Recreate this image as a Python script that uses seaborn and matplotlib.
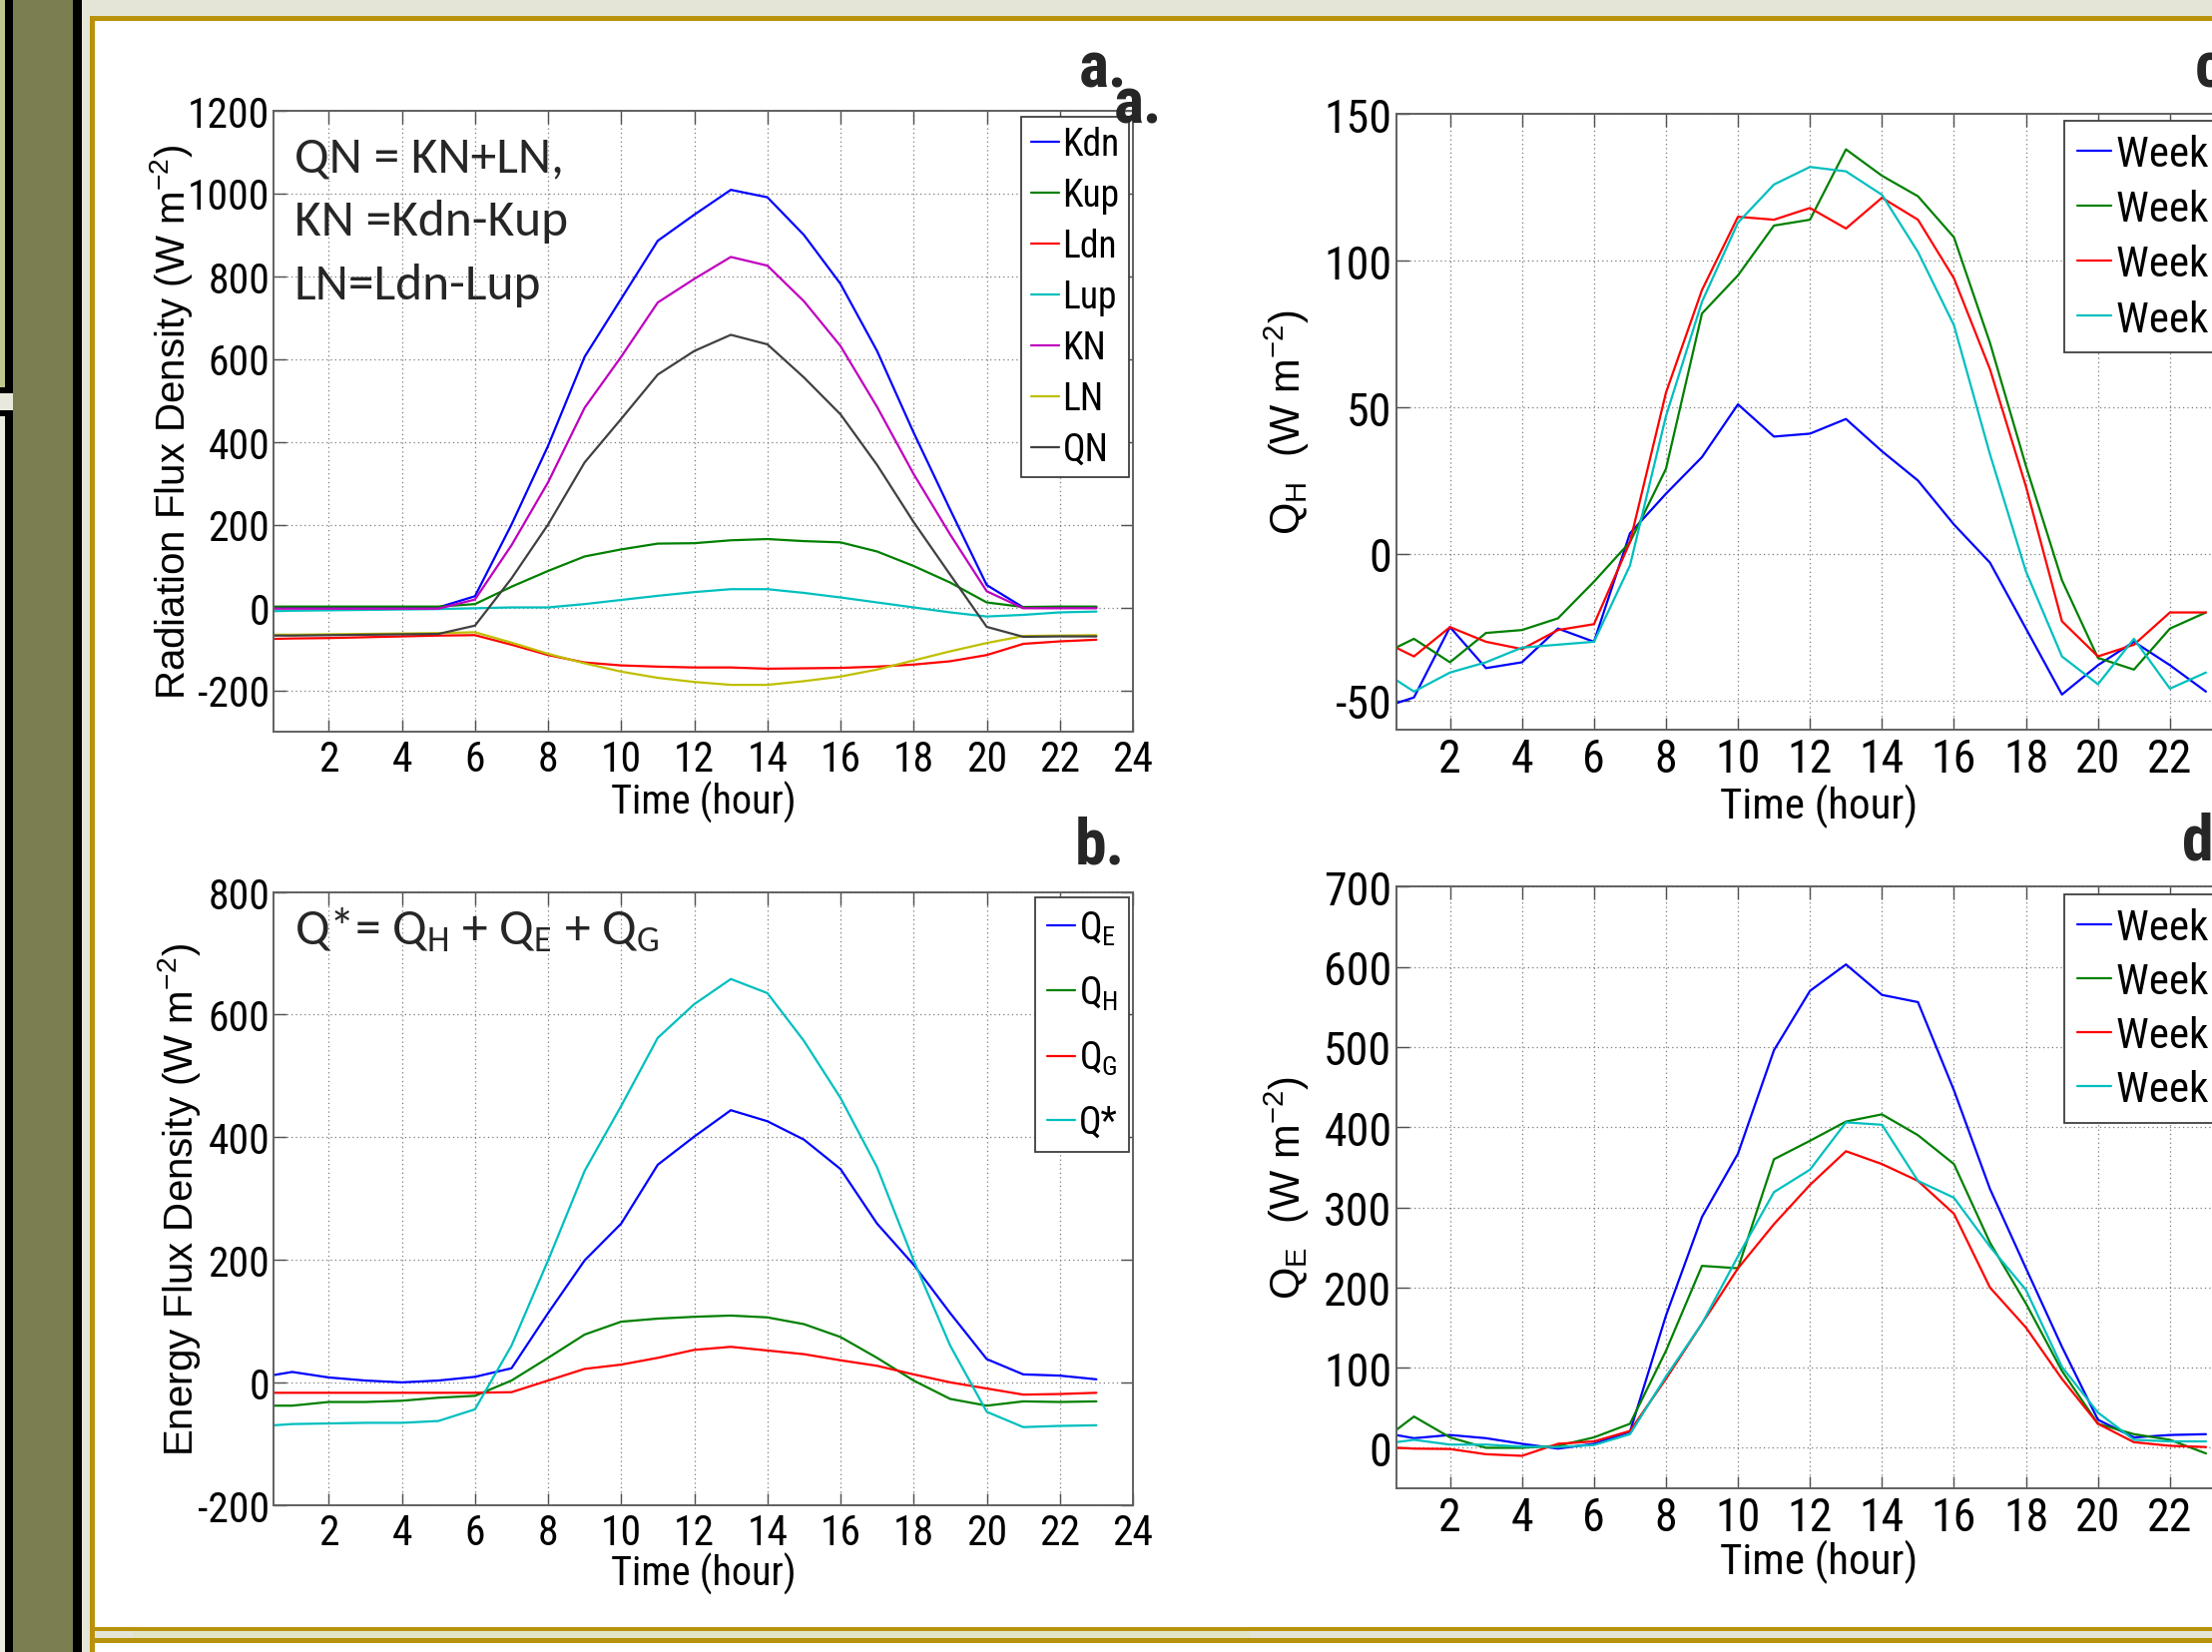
import matplotlib
matplotlib.use('Agg')
import matplotlib.pyplot as plt
import seaborn as sns
from matplotlib.patches import Rectangle

# ---------------- data ----------------
hours = [0.5] + list(range(1, 24))

# panel a: radiation components (W m-2)
rad_names = ['Kdn', 'Kup', 'Ldn', 'Lup', 'KN', 'LN', 'QN']
kdn = [0, 0, 0, 0, 0, 0, 27, 200, 390, 605, 745, 885, 948, 1008, 990, 899, 781, 619, 422, 236, 54, 0, 0, 0]
kup = [2, 2, 2, 2, 2, 2, 8, 50, 88, 123, 140, 154, 155, 162, 165, 160, 157, 135, 100, 60, 12, 1, 2, 2]
ldn = [-76, -75, -74, -72, -70, -68, -67, -90, -115, -133, -140, -143, -145, -145, -148, -147, -146, -143, -138, -130, -115, -88, -82, -78]
lup = [-9, -8, -7, -6, -5, -4, -2, 0, 0, 8, 18, 28, 37, 44, 44, 35, 24, 12, 0, -12, -22, -18, -12, -10]
kn = [-3, -3, -3, -3, -3, -3, 19, 150, 302, 482, 605, 736, 793, 846, 825, 739, 631, 484, 322, 176, 39, -2, -2, -2]
ln = [-66, -66, -65, -64, -63, -62, -60, -85, -112, -135, -155, -170, -180, -187, -187, -178, -167, -150, -128, -106, -86, -69, -68, -67]
qn = [-68, -68, -67, -66, -65, -64, -44, 70, 200, 350, 455, 562, 619, 658, 635, 555, 466, 344, 206, 79, -47, -71, -70, -70]

# panel b: energy balance components (W m-2)
en_names = ['Q$_E$', 'Q$_H$', 'Q$_G$', 'Q*']
qe = [12, 17, 8, 3, 0, 3, 9, 23, 113, 199, 259, 355, 401, 444, 426, 396, 348, 259, 192, 113, 38, 13, 11, 5]
qh = [-38, -38, -32, -32, -30, -25, -22, 3, 40, 78, 99, 104, 107, 109, 106, 95, 74, 40, 3, -27, -38, -31, -32, -31]
qg = [-17, -17, -17, -17, -17, -17, -17, -16, 3, 22, 29, 40, 53, 58, 52, 46, 36, 27, 13, 0, -10, -20, -19, -17]
qstar = [-70, -68, -67, -66, -66, -63, -44, 60, 199, 345, 451, 562, 617, 658, 635, 557, 464, 351, 199, 60, -48, -73, -71, -70]

# panel c: weekly Q_H
week_names = ['Week 1', 'Week 2', 'Week 3', 'Week 4']
qh_w1 = [-51, -49, -25, -39, -37, -25.5, -30, 7, 20.5, 33, 51, 40, 41, 46, 35, 25, 10, -3, -25.5, -48, -38, -30, -38, -47]
qh_w2 = [-32, -29, -37, -27, -26, -22, -9.5, 4, 29, 82, 95, 112, 114, 138, 129, 122, 108, 72, 30, -9, -35.5, -39.5, -25.5, -20]
qh_w3 = [-32, -35, -25, -30, -32.5, -26, -24, 4, 55, 90, 115, 114, 118, 111, 121.5, 114, 94, 63, 23, -23, -35, -31, -20, -20]
qh_w4 = [-43, -47, -40.5, -37, -32, -31, -30, -4, 47, 86, 113, 126, 132, 130.5, 122.5, 103, 78, 34, -6, -35, -44.5, -29, -46, -40.5]

# panel d: weekly Q_E
qe_w1 = [16, 12, 16, 12, 5, -1, 5, 20, 165, 288, 367, 496, 570, 603, 565, 556, 446, 323, 224, 126, 35, 13, 16, 17]
qe_w2 = [22, 39, 13, 0, 0, 2.5, 13, 30, 121, 227, 224, 360, 383, 407, 416, 390, 354, 256, 180, 96, 30, 17, 10, -7]
qe_w3 = [0, -1, -1.5, -8, -10, 5, 8, 21, 86, 155, 224, 279, 328, 370, 354, 333, 292, 200, 150, 86, 30, 7, 2.5, 1]
qe_w4 = [7, 10, 4, 4, 1.5, 1, 3.5, 17, 89, 155, 239, 319, 347, 406, 403, 333, 312, 251, 197, 101, 44, 10, 8, 8]

# ---------------- style ----------------
sns.set_theme(style='white')
NARROW = ['Roboto Condensed', 'PT Sans Narrow', 'IBM Plex Sans Condensed', 'DejaVu Sans']
plt.rcParams['font.family'] = NARROW
plt.rcParams['mathtext.default'] = 'regular'
plt.rcParams['axes.unicode_minus'] = False

BLUE, GREEN, RED, CYAN = '#0000ff', '#008000', '#ff0000', '#00bfbf'
MAG, YEL, DARK = '#bf00bf', '#bfbf00', '#404040'

W, H = 2216, 1656
fig = plt.figure(figsize=(W / 100, H / 100), dpi=100)
fig.patch.set_facecolor('#e4e5d7')

# ---------------- poster background ----------------
bg = fig.add_axes([0, 0, 1, 1], zorder=-5)
bg.set_xlim(0, W)
bg.set_ylim(H, 0)
bg.axis('off')


def rect(x0, y0, x1, y1, c):
    bg.add_patch(Rectangle((x0, y0), x1 - x0, y1 - y0, facecolor=c, edgecolor='none', lw=0))


GOLD = '#b8920c'
rect(0, 0, 5, 389, '#c0c58b')
rect(0, 389, 13, 395, '#000000')
rect(0, 395, 13, 412, '#e8e8dc')
rect(0, 412, 13, 418, '#000000')
rect(0, 418, 5, H, '#e9eae0')
rect(5, 0, 13, 389, '#000000')
rect(5, 418, 13, H, '#000000')
rect(13, 0, 73, H, '#7b7e50')
rect(73, 0, 82, H, '#000000')
rect(95, 22, W, 1631, '#ffffff')
rect(90, 17, W, 22, GOLD)
rect(90, 17, 95, H, GOLD)
rect(90, 1631, W, 1635, GOLD)
rect(133, 1635, 1252, 1642, '#e2e4c6')
rect(90, 1642, W, 1647, GOLD)
rect(95, 1647, W, H, '#ffffff')


# ---------------- panels ----------------
def panel(box, series, names, colors, ylim, yticks, ylabel, ylab_x, xlab_y,
          tick_fs, lab_fs, ylab_fs, leg_kw):
    l, t, r, b = box
    ax = fig.add_axes([l / W, 1 - b / H, (r - l) / W, (b - t) / H])
    ax.set_facecolor('white')
    for vals, name, col in zip(series, names, colors):
        sns.lineplot(x=hours, y=vals, ax=ax, color=col, label=name, linewidth=1.6)
    ax.set_xlim(0.5, 24)
    ax.set_xticks(list(range(2, 25, 2)))
    ax.set_ylim(*ylim)
    ax.set_yticks(yticks)
    ax.grid(True, linestyle=(0, (1, 2.5)), color='#7a7a7a', linewidth=0.9)
    for s in ax.spines.values():
        s.set_color('#606060')
        s.set_linewidth(1.4)
    ax.tick_params(direction='in', bottom=True, left=True, top=True, right=True,
                   length=9, width=1, color='#505050', labelsize=tick_fs,
                   labelcolor='black')
    ax.tick_params(axis='y', pad=3)
    ax.tick_params(axis='x', pad=5)
    ax.set_xlabel('Time (hour)', fontsize=lab_fs, color='black')
    ax.xaxis.label.set_va('center')
    ax.xaxis.set_label_coords(0.5, xlab_y)
    ax.set_ylabel(ylabel, fontsize=ylab_fs, color='black',
                  family=['Liberation Sans', 'DejaVu Sans'])
    ax.yaxis.label.set_va('center')
    ax.yaxis.set_label_coords(ylab_x, 0.5)
    leg = ax.legend(bbox_transform=fig.transFigure, borderaxespad=0, frameon=True,
                    fancybox=False, edgecolor='#404040', framealpha=1,
                    handletextpad=0.1, **leg_kw)
    leg.get_frame().set_linewidth(1.3)
    for txt in leg.get_texts():
        txt.set_color('black')
    return ax


ax_a = panel((274.4, 111.5, 1135, 734),
             [kdn, kup, ldn, lup, kn, ln, qn], rad_names,
             [BLUE, GREEN, RED, CYAN, MAG, YEL, DARK],
             (-300, 1200), list(range(-200, 1201, 200)),
             'Radiation Flux Density (W m$^{-2}$)', -0.12, -0.113,
             30, 29, 29,
             dict(loc='upper right', bbox_to_anchor=(1131 / W, 1 - 118 / H),
                  fontsize=27, handlelength=0.75, borderpad=0.25, labelspacing=0.37))

ax_b = panel((274.4, 894.6, 1135, 1508.7),
             [qe, qh, qg, qstar], en_names,
             [BLUE, GREEN, RED, CYAN],
             (-200, 800), list(range(-200, 801, 200)),
             'Energy Flux Density (W m$^{-2}$)', -0.11, -0.111,
             30, 29, 29,
             dict(loc='upper right', bbox_to_anchor=(1131 / W, 1 - 900 / H),
                  fontsize=27, handlelength=0.75, borderpad=0.3, labelspacing=0.72))

ax_c = panel((1398.5, 115.4, 2246, 732),
             [qh_w1, qh_w2, qh_w3, qh_w4], week_names,
             [BLUE, GREEN, RED, CYAN],
             (-60, 150), [-50, 0, 50, 100, 150],
             'Q$_H$  (W m$^{-2}$)', -0.129, -0.123,
             33, 31, 30,
             dict(loc='upper left', bbox_to_anchor=(2068 / W, 1 - 122 / H),
                  fontsize=31, handlelength=0.8, borderpad=0.3, labelspacing=0.33))

ax_d = panel((1398.5, 889.3, 2246, 1491.6),
             [qe_w1, qe_w2, qe_w3, qe_w4], week_names,
             [BLUE, GREEN, RED, CYAN],
             (-50, 700), list(range(0, 701, 100)),
             'Q$_E$  (W m$^{-2}$)', -0.129, -0.122,
             33, 31, 30,
             dict(loc='upper left', bbox_to_anchor=(2068 / W, 1 - 897 / H),
                  fontsize=31, handlelength=0.8, borderpad=0.3, labelspacing=0.3))

# ---------------- annotations ----------------
CAL = ['Carlito', 'Lato', 'DejaVu Sans']
for txt, yb in [('QN = KN+LN,', 172), ('KN =Kdn-Kup', 236), ('LN=Ldn-Lup', 300)]:
    fig.text(295 / W, 1 - yb / H, txt, fontsize=37, family=CAL, ha='left', va='baseline')
fig.text(295 / W, 1 - 947 / H, 'Q*= Q$_H$ + Q$_E$ + Q$_G$', fontsize=37, family=CAL,
         ha='left', va='baseline')

LBL = dict(fontsize=46, fontweight='bold', family=NARROW, ha='left', va='baseline', zorder=20)
fig.text(1081 / W, 1 - 88 / H, 'a.', **LBL)
fig.text(1116 / W, 1 - 124 / H, 'a.', **LBL)
fig.text(1077 / W, 1 - 866 / H, 'b.', **LBL)
fig.text(2199 / W, 1 - 88 / H, 'c.', **LBL)
fig.text(2186 / W, 1 - 862 / H, 'd.', **LBL)

fig.savefig('out.png', dpi=100, facecolor=fig.get_facecolor())
